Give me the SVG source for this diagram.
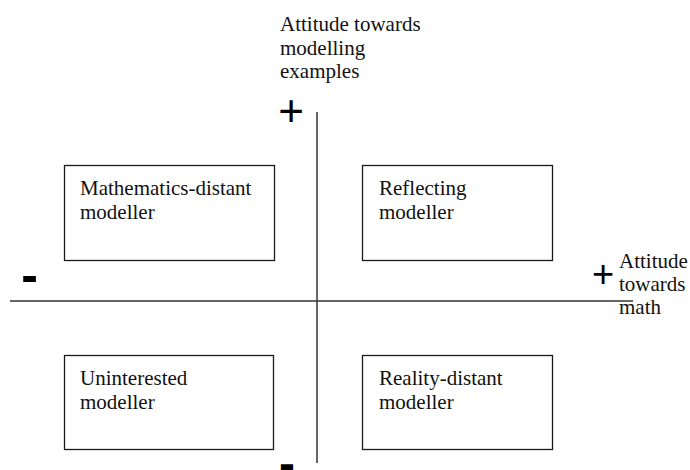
<svg xmlns="http://www.w3.org/2000/svg" width="690" height="470" viewBox="0 0 690 470">
<style>
.box{fill:#fff;stroke:#1a1a1a;stroke-width:1.3}
.axis{stroke:#333;stroke-width:1.5;fill:none}
.t{font-family:"Liberation Serif","Times New Roman",serif;font-size:21px;fill:#111}
.sign{font-family:"Liberation Sans",Arial,sans-serif;fill:#000}
</style>
<rect width="690" height="470" fill="#fff"/>
<g id="axes">
<line class="axis" x1="10" y1="301" x2="633" y2="301"/>
<line class="axis" x1="317" y1="112" x2="317" y2="463"/>
</g>
<g id="y-axis-label">
<text class="t" x="280" y="31">Attitude towards</text>
<text class="t" x="280" y="54.5">modelling</text>
<text class="t" x="280" y="78">examples</text>
<text class="sign" x="291" y="125.5" font-size="44" text-anchor="middle">+</text>
<text class="sign" x="287" y="479.5" font-size="48" font-weight="bold" text-anchor="middle">-</text>
</g>
<g id="x-axis-label">
<text class="sign" x="29.5" y="292" font-size="50" font-weight="bold" text-anchor="middle">-</text>
<text class="sign" x="603" y="287" font-size="38" text-anchor="middle">+</text>
<text class="t" x="619" y="268">Attitude</text>
<text class="t" x="619" y="291">towards</text>
<text class="t" x="619" y="314">math</text>
</g>
<g id="mathematics-distant">
<rect class="box" x="64.5" y="165.5" width="210" height="95"/>
<text class="t" x="80" y="195">Mathematics-distant</text>
<text class="t" x="80" y="219">modeller</text>
</g>
<g id="reflecting">
<rect class="box" x="362.5" y="165.5" width="190" height="95"/>
<text class="t" x="379" y="195">Reflecting</text>
<text class="t" x="379" y="219">modeller</text>
</g>
<g id="uninterested">
<rect class="box" x="64.5" y="355.5" width="209" height="94"/>
<text class="t" x="80" y="384.5">Uninterested</text>
<text class="t" x="80" y="408.5">modeller</text>
</g>
<g id="reality-distant">
<rect class="box" x="362.5" y="355.5" width="190" height="94"/>
<text class="t" x="379" y="384.5">Reality-distant</text>
<text class="t" x="379" y="408.5">modeller</text>
</g>
</svg>
